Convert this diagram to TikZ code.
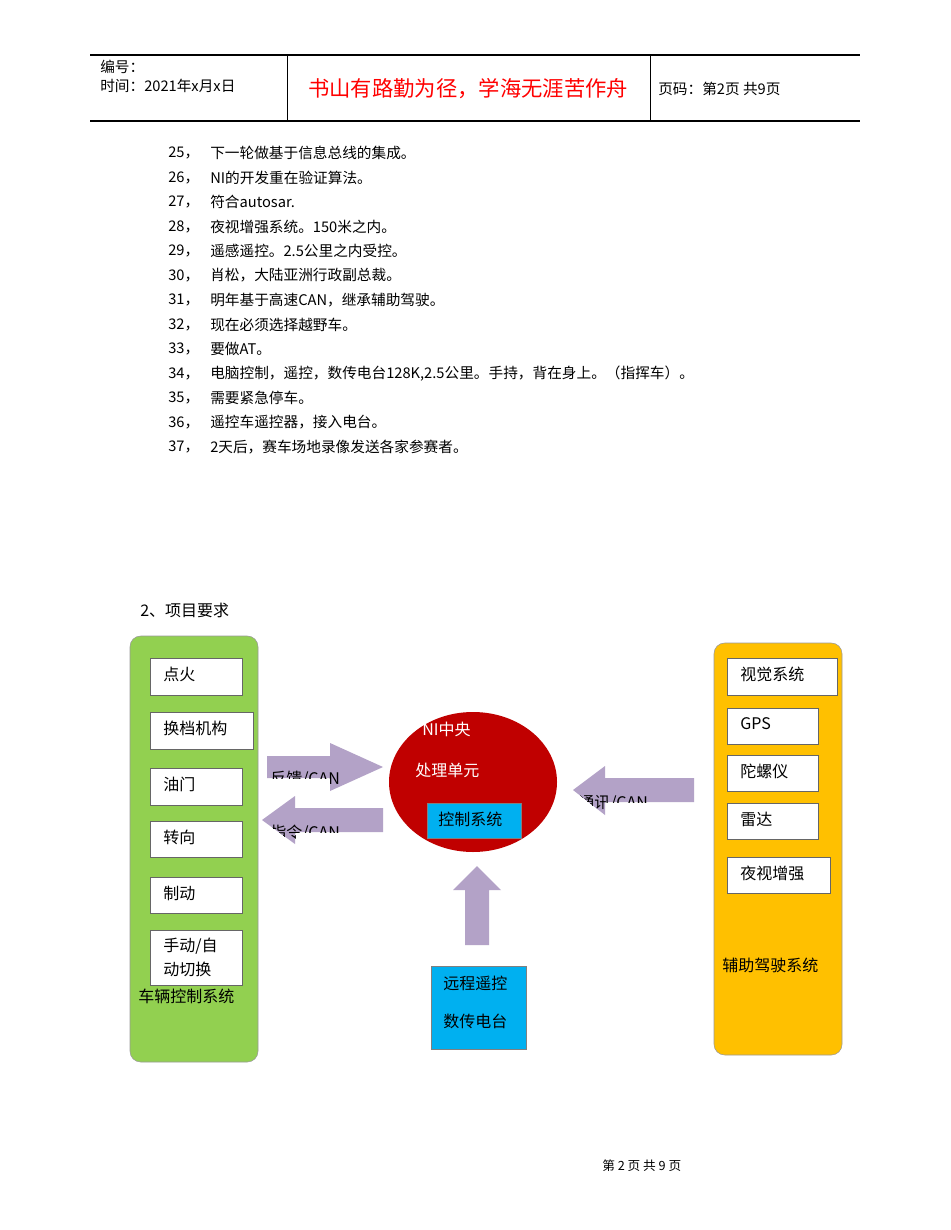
\documentclass[tikz,border=0pt]{standalone}
\usepackage{fontspec}
\setmainfont{Noto Sans CJK SC}
\begin{document}
\begin{tikzpicture}[x=0.75pt,y=-0.75pt,
  txt/.style={anchor=west,inner sep=0pt,font=\fontsize{11}{13}\selectfont},
  dtxt/.style={anchor=west,inner sep=0pt,font=\fontsize{12}{14}\selectfont},
  wbox/.style={draw=black!60,fill=white,line width=0.5pt},
  arr/.style={fill=arrowc,draw=none}]
\definecolor{greenc}{HTML}{92D050}
\definecolor{yellowc}{HTML}{FFC000}
\definecolor{redc}{HTML}{C00000}
\definecolor{bluec}{HTML}{00B0F0}
\definecolor{arrowc}{HTML}{B3A2C7}
\useasboundingbox[fill=white] (0,0) rectangle (950,1230);
% header
\draw[line width=0.8pt] (90,55) coordinate (hl) -- (860,55) coordinate (hr);
\draw[line width=0.8pt] (90,121) coordinate (bl) -- (860,121) coordinate (br);
\draw (287,55) coordinate (v1) -- (287,121) coordinate (v1b);
\draw (650,55) coordinate (v2) -- (650,121) coordinate (v2b);
\node[txt] (h1) at (100,67) {编号：};
\node[txt] (h2) at (100,86) {时间：2021年x月x日};
\node[inner sep=0pt,text=red,font=\fontsize{16}{18}\selectfont] (motto) at (468,89) {书山有路勤为径，学海无涯苦作舟};
\node[txt] (pg) at (658,89) {页码：第2页\ 共9页};
% list
\foreach \n/\t [count=\i from 0] in {25/下一轮做基于信息总线的集成。,26/NI的开发重在验证算法。,27/符合autosar.,28/夜视增强系统。150米之内。,29/遥感遥控。2.5公里之内受控。,30/肖松，大陆亚洲行政副总裁。,31/明年基于高速CAN，继承辅助驾驶。,32/现在必须选择越野车。,33/要做AT。,34/{电脑控制，遥控，数传电台128K,2.5公里。手持，背在身上。（指挥车）。},35/需要紧急停车。,36/遥控车遥控器，接入电台。,37/2天后，赛车场地录像发送各家参赛者。}{
  \node[txt] (n\n) at (168,153+24.5*\i) {\n，};
  \node[txt] (t\n) at (210,153+24.5*\i) {\t};
}
\node[dtxt] (sec) at (140,610) {2、项目要求};
% green
\draw[draw=black!40,fill=greenc,rounded corners=8] (130,636) rectangle (258,1062);
\foreach \a/\b/\c/\d/\t/\nm in {150/658/242/695/点火/g1,150/712/253/749/换档机构/g2,150/768/242/805/油门/g3,150/821/242/857/转向/g4,150/877/242/913/制动/g5}{
  \draw[wbox] (\a,\b) rectangle (\c,\d);
  \node[dtxt] (\nm) at (\a+13,{(\b+\d)/2-2}) {\t};
}
\draw[wbox] (150,930) rectangle (242,985);
\node[dtxt] (g6a) at (163,946) {手动/自};
\node[dtxt] (g6b) at (163,969) {动切换};
\node[dtxt] (glab) at (138,996) {车辆控制系统};
% yellow
\draw[draw=black!40,fill=yellowc,rounded corners=8] (714,643) rectangle (842,1055);
\foreach \a/\b/\c/\d/\t/\nm in {727/658/837/695/视觉系统/y1,727/708/818/744/GPS/y2,727/755/818/791/陀螺仪/y3,727/803/818/839/雷达/y4,727/857/830/893/夜视增强/y5}{
  \draw[wbox] (\a,\b) rectangle (\c,\d);
  \node[dtxt] (\nm) at (\a+13,{(\b+\d)/2-2}) {\t};
}
\node[dtxt] (ylab) at (722,965) {辅助驾驶系统};
% circle
\fill[redc] (473,782) ellipse [x radius=84, y radius=70];
\node[dtxt,text=white] (ni1) at (422,729) {NI中央};
\node[dtxt,text=white] (ni2) at (415,770) {处理单元};
\draw[draw=black!50,fill=bluec] (427,803) rectangle (521,838);
\node[dtxt] (ctl) at (438,819) {控制系统};
% arrows
\begin{scope}
\path[clip] (267,756) -- (330,756) -- (330,743) -- (383,767) -- (330,791) -- (330,778) -- (267,778) -- cycle;
\fill[arrowc] (260,730) rectangle (390,800);
\node[dtxt] (fk) at (270,779) {反馈/CAN};
\end{scope}
\begin{scope}
\path[clip] (262,820) -- (295,796) -- (295,808) -- (383,808) -- (383,832) -- (295,832) -- (295,844) -- cycle;
\fill[arrowc] (255,790) rectangle (390,850);
\node[dtxt] (zl) at (270,833) {指令/CAN};
\end{scope}
\begin{scope}
\path[clip] (573,790) -- (605,766) -- (605,778) -- (694,778) -- (694,802) -- (605,802) -- (605,815) -- cycle;
\fill[arrowc] (565,760) rectangle (700,820);
\node[dtxt] (tx) at (578,803) {通讯/CAN};
\end{scope}
\fill[arrowc] (477,866) -- (501,890) -- (489,890) -- (489,945) -- (465,945) -- (465,890) -- (453,890) -- cycle;
% remote
\draw[draw=black!50,fill=bluec] (431,966) rectangle (526,1049);
\node[dtxt] (r1) at (443,983) {远程遥控};
\node[dtxt] (r2) at (443,1021) {数传电台};
\node[txt,font=\fontsize{9.5}{11}\selectfont] (foot) at (602,1166) {第 2 页 共 9 页};
\end{tikzpicture}
\end{document}
